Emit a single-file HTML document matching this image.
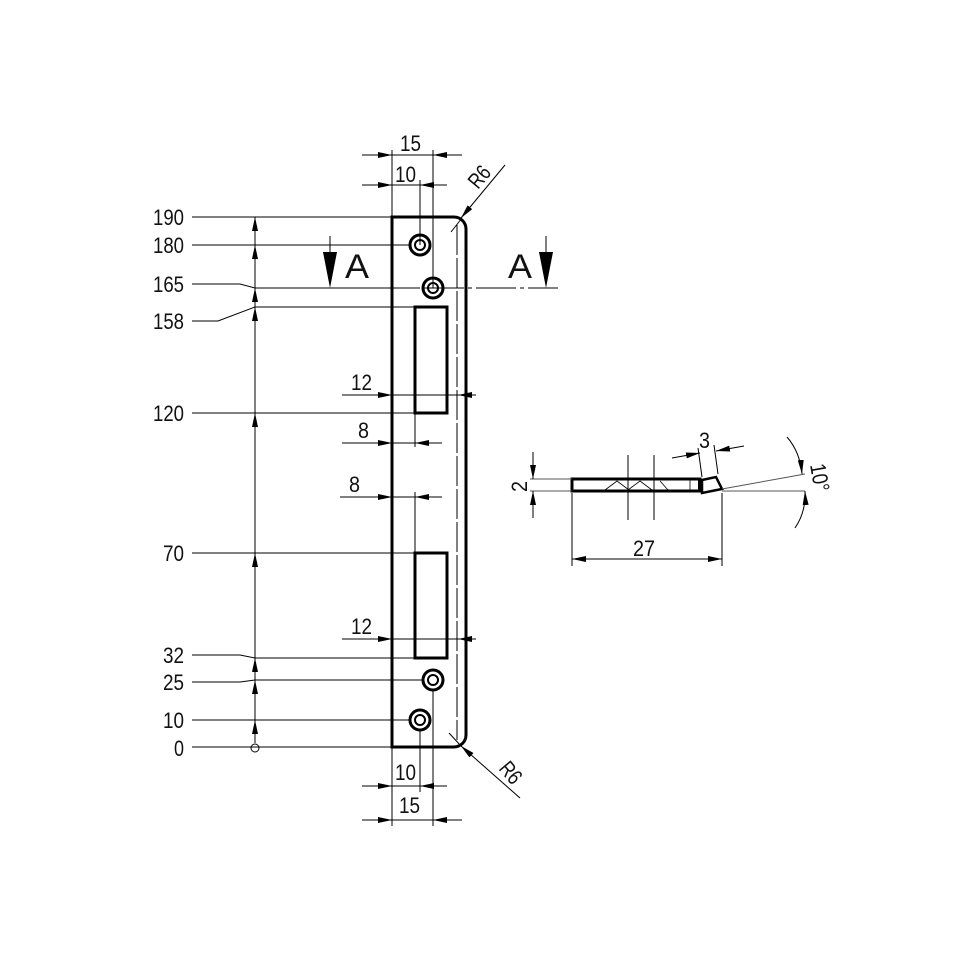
<!DOCTYPE html>
<html><head><style>body{margin:0;background:#fff}svg{display:block}text{font-family:"Liberation Sans",sans-serif;font-size:22px;fill:#111}</style></head><body>
<svg width="960" height="960" viewBox="0 0 960 960" xmlns="http://www.w3.org/2000/svg">
<defs>
<marker id="a" markerWidth="14" markerHeight="6" refX="14" refY="3" orient="auto" markerUnits="userSpaceOnUse"><path d="M0,0L14,3L0,6Z" fill="#000"/></marker>
</defs>
<g stroke="#000" stroke-width="1" fill="none">
<path d="M192,217H392M192,245H410M192,284H240L255,288H420M192,321H218L255,307H415M192,413H415M192,553H415M192,655H240L255,658H415M192,682H240L255,680H422M192,720H409M192,747H392"/>
<line x1="255" y1="217" x2="255" y2="743"/>
<circle cx="255" cy="748" r="4"/>
</g>
<g fill="#000">
<path d="M255,217l-3,14h6z M255,245l-3,14h6z M255,288l-3,14h6z M255,307l-3,14h6z M255,413l-3,14h6z M255,553l-3,14h6z M255,658l-3,14h6z M255,680l-3,14h6z M255,720l-3,14h6z"/>
</g>
<g text-anchor="end" lengthAdjust="spacingAndGlyphs">
<text x="184" y="225" textLength="31" lengthAdjust="spacingAndGlyphs">190</text><text x="184" y="253" textLength="31" lengthAdjust="spacingAndGlyphs">180</text><text x="184" y="292" textLength="31" lengthAdjust="spacingAndGlyphs">165</text><text x="184" y="329" textLength="31" lengthAdjust="spacingAndGlyphs">158</text><text x="184" y="421" textLength="31" lengthAdjust="spacingAndGlyphs">120</text><text x="184" y="561" textLength="21" lengthAdjust="spacingAndGlyphs">70</text><text x="184" y="663" textLength="21" lengthAdjust="spacingAndGlyphs">32</text><text x="184" y="690" textLength="21" lengthAdjust="spacingAndGlyphs">25</text><text x="184" y="728" textLength="21" lengthAdjust="spacingAndGlyphs">10</text><text x="184" y="756" textLength="10" lengthAdjust="spacingAndGlyphs">0</text>
</g>
<path d="M392,217H454A12,12 0 0 1 466,229V735A12,12 0 0 1 454,747H392Z" fill="none" stroke="#000" stroke-width="3"/>
<line x1="457" y1="225" x2="457" y2="740" stroke="#000" stroke-width="1" stroke-dasharray="30,3"/>
<rect x="415" y="307" width="32" height="106" fill="none" stroke="#000" stroke-width="3"/>
<rect x="415" y="553" width="32" height="105" fill="none" stroke="#000" stroke-width="3"/>
<g fill="none" stroke="#000">
<circle cx="420" cy="245" r="10" stroke-width="3"/><circle cx="420" cy="245" r="5" stroke-width="2"/>
<circle cx="433" cy="288" r="10" stroke-width="3"/><circle cx="433" cy="288" r="5" stroke-width="2"/>
<circle cx="433" cy="680" r="10" stroke-width="3"/><circle cx="433" cy="680" r="5" stroke-width="2"/>
<circle cx="420" cy="720" r="10" stroke-width="3"/><circle cx="420" cy="720" r="5" stroke-width="2"/>
</g>
<g stroke="#000" stroke-width="1" fill="none">
<path d="M392,150V217M433,150V288M420,180V245"/>
<line x1="362" y1="155" x2="392" y2="155" marker-end="url(#a)"/><line x1="462" y1="155" x2="433" y2="155" marker-end="url(#a)"/><line x1="392" y1="155" x2="433" y2="155"/>
<line x1="362" y1="185" x2="392" y2="185" marker-end="url(#a)"/><line x1="447" y1="185" x2="420" y2="185" marker-end="url(#a)"/><line x1="392" y1="185" x2="420" y2="185"/>
<path d="M392,747V826M433,690V826M420,730V792"/>
<line x1="362" y1="786" x2="392" y2="786" marker-end="url(#a)"/><line x1="447" y1="786" x2="420" y2="786" marker-end="url(#a)"/><line x1="392" y1="786" x2="420" y2="786"/>
<line x1="362" y1="820" x2="392" y2="820" marker-end="url(#a)"/><line x1="462" y1="820" x2="433" y2="820" marker-end="url(#a)"/><line x1="392" y1="820" x2="433" y2="820"/>
<line x1="505" y1="165" x2="461" y2="218" marker-end="url(#a)"/><line x1="462" y1="218" x2="451" y2="232"/>
<line x1="520" y1="798" x2="461" y2="746" marker-end="url(#a)"/><line x1="461" y1="746" x2="449" y2="733"/>
<line x1="342" y1="395" x2="392" y2="395" marker-end="url(#a)"/><line x1="476" y1="395" x2="458" y2="395" marker-end="url(#a)"/><line x1="392" y1="395" x2="458" y2="395"/>
<line x1="342" y1="639" x2="392" y2="639" marker-end="url(#a)"/><line x1="476" y1="639" x2="458" y2="639" marker-end="url(#a)"/><line x1="392" y1="639" x2="458" y2="639"/>
<line x1="342" y1="443" x2="392" y2="443" marker-end="url(#a)"/><line x1="442" y1="443" x2="415" y2="443" marker-end="url(#a)"/><path d="M392,443H415M415,413V447"/>
<line x1="340" y1="497" x2="392" y2="497" marker-end="url(#a)"/><line x1="442" y1="497" x2="415" y2="497" marker-end="url(#a)"/><path d="M392,497H415M415,492V553"/>
<line x1="320" y1="288" x2="558" y2="288" stroke-dasharray="40,4,4,4"/>
<line x1="330" y1="236" x2="330" y2="260"/><line x1="546" y1="236" x2="546" y2="260"/>
</g>
<path d="M323,252h14l-7,36z M539,252h14l-7,36z" fill="#000"/>
<text x="345" y="278" style="font-size:34px" textLength="24" lengthAdjust="spacingAndGlyphs">A</text><text x="508" y="278" style="font-size:34px" textLength="24" lengthAdjust="spacingAndGlyphs">A</text>
<text x="400" y="151" textLength="21" lengthAdjust="spacingAndGlyphs">15</text><text x="395" y="182" textLength="21" lengthAdjust="spacingAndGlyphs">10</text>
<text x="395" y="780" textLength="21" lengthAdjust="spacingAndGlyphs">10</text><text x="399" y="813" textLength="21" lengthAdjust="spacingAndGlyphs">15</text>
<text x="351" y="390" textLength="21" lengthAdjust="spacingAndGlyphs">12</text><text x="351" y="634" textLength="21" lengthAdjust="spacingAndGlyphs">12</text>
<text x="358" y="438" textLength="11" lengthAdjust="spacingAndGlyphs">8</text><text x="349" y="492" textLength="11" lengthAdjust="spacingAndGlyphs">8</text>
<text transform="translate(478,190) rotate(-50)" textLength="22" lengthAdjust="spacingAndGlyphs">R6</text>
<text transform="translate(498,769) rotate(50)" textLength="22" lengthAdjust="spacingAndGlyphs">R6</text>
<g stroke="#000" fill="none">
<rect x="572" y="479" width="128" height="12" stroke-width="3"/>
<path d="M702,480L716,477L722,489L702,493Z" stroke-width="2.5"/>
<path d="M700,479V492" stroke-width="4"/>
<path d="M628,455V520M654,455V520" stroke-width="1"/>
<path d="M605,490l12,-9 12,9M628,490l12,-9 12,9M668,490l-8,-9M690,479V491" stroke-width="0.8"/>
<path d="M530,479H572M530,491H572M722,491H805M722,489L805,474" stroke-width="1" stroke="#555"/>
<line x1="533" y1="452" x2="533" y2="479" stroke-width="1" marker-end="url(#a)"/>
<line x1="533" y1="518" x2="533" y2="491" stroke-width="1" marker-end="url(#a)"/>
<path d="M572,493V566M722,493V566" stroke-width="1"/>
<line x1="647" y1="559" x2="572" y2="559" stroke-width="1" marker-end="url(#a)"/>
<line x1="647" y1="559" x2="722" y2="559" stroke-width="1" marker-end="url(#a)"/>
<path d="M702,477L698,448M718,474L714,445" stroke-width="1"/>
<line x1="672" y1="458" x2="700" y2="453" stroke-width="1" marker-end="url(#a)"/>
<line x1="744" y1="446" x2="716" y2="451" stroke-width="1" marker-end="url(#a)"/>
<path d="M787,437Q800,452 802,474" stroke-width="1" marker-end="url(#a)"/>
<path d="M795,528Q806,512 805,491" stroke-width="1" marker-end="url(#a)"/>
</g>
<text transform="translate(527,492) rotate(-90)" textLength="11" lengthAdjust="spacingAndGlyphs">2</text>
<text x="699" y="448" textLength="11" lengthAdjust="spacingAndGlyphs">3</text>
<text x="633" y="556" textLength="22" lengthAdjust="spacingAndGlyphs">27</text>
<text transform="translate(810,465) rotate(80)" textLength="28" lengthAdjust="spacingAndGlyphs">10°</text>
</svg>
</body></html>
